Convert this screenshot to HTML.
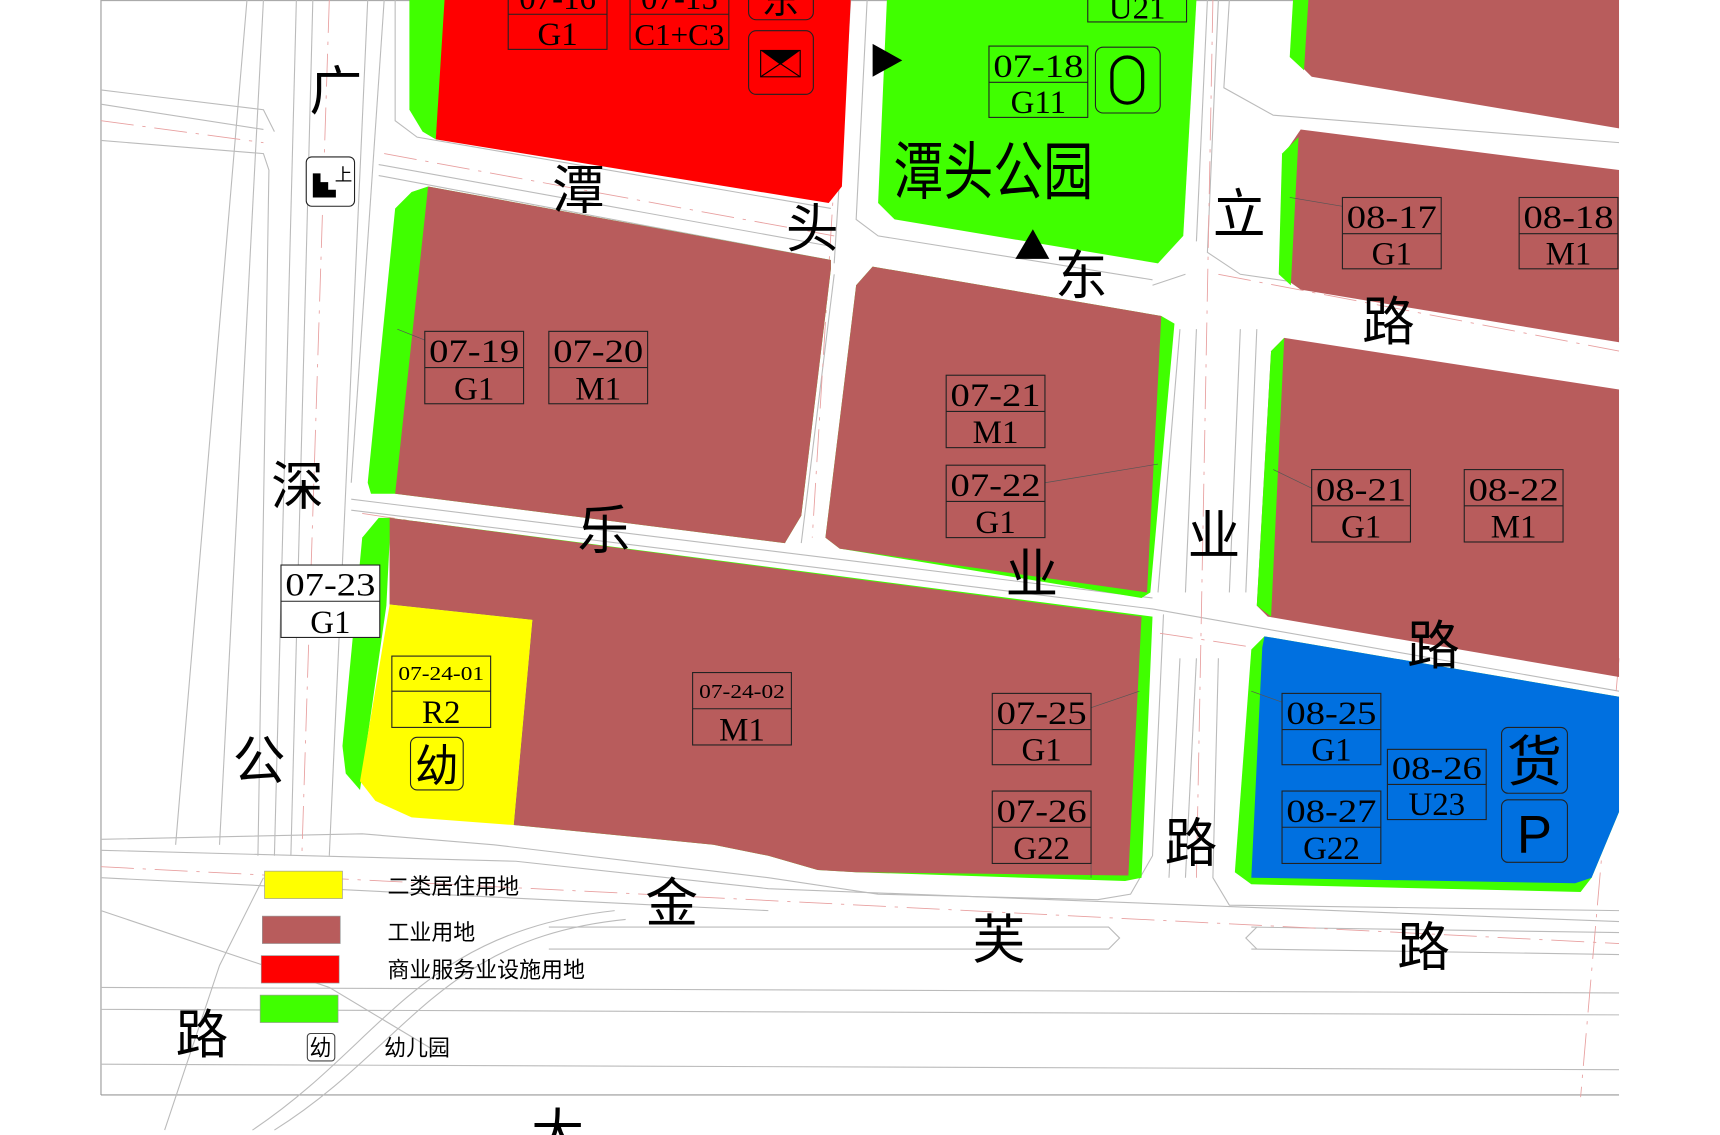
<!DOCTYPE html>
<html><head><meta charset="utf-8"><style>
html,body{margin:0;padding:0;background:#fff;overflow:hidden}
svg{display:block}
.cj{font-family:"Liberation Sans","Noto Sans CJK SC",sans-serif;fill:#000}
.lb{font-family:"Liberation Serif","Noto Serif CJK SC",serif;fill:#000;text-anchor:middle}
.bx{fill:none;stroke:#222;stroke-width:1}
.rd{fill:none;stroke:#bbb;stroke-width:1}
.rr{fill:none;stroke:#e8a0a0;stroke-width:0.8;stroke-dasharray:30 8 3 8}
</style></head><body>
<svg width="1720" height="1135" viewBox="0 0 1567 1034.5" preserveAspectRatio="none" xmlns="http://www.w3.org/2000/svg">
<rect width="1567" height="1035" fill="#fff"/>
<line x1="92" y1="0" x2="92" y2="998" stroke="#999"/>
<line x1="92" y1="998" x2="1475" y2="998" stroke="#999"/>
<line x1="92" y1="0.5" x2="1475" y2="0.5" stroke="#aaa"/>
<g class="rd">
<path d="M92,82 L240,100 L250,120"/><path d="M92,95 L240,118"/><path d="M92,128 L240,140 L245,155 L235,780"/>
<path d="M270,0 L250,780"/><path d="M285,0 L265,780"/><path d="M335,0 L300,780"/><path d="M350,0 L320,440"/><path d="M240,0 L200,770"/><path d="M225,0 L160,770"/>
<path d="M360,0 L360,110 L380,125 L757,190"/><path d="M345,150 L760,225"/><path d="M345,160 L755,237"/>
<path d="M790,0 L780,200 L800,215 L1050,255"/><path d="M775,0 L760,240"/><path d="M760,250 L730,495"/><path d="M745,250 L715,495"/>
<path d="M1100,0 L1090,220"/><path d="M1110,0 L1100,230 L1130,250 L1475,300"/><path d="M1120,0 L1115,80 L1160,105 L1475,130"/><path d="M1080,250 L1050,260"/>
<path d="M1075,300 L1055,540"/><path d="M1090,300 L1080,540"/><path d="M1130,300 L1120,540"/><path d="M1145,300 L1135,540"/>
<path d="M320,465 L1050,555 L1475,630"/><path d="M320,455 L1050,545"/>
<path d="M1060,560 L1050,780 L1030,815 L1000,820 L800,815 L700,800 L450,770 L330,760 L92,765"/>
<path d="M1075,600 L1065,800"/><path d="M1090,600 L1080,800"/><path d="M1110,600 L1105,800 L1120,825 L1475,830"/>
<path d="M92,775 L470,785 L700,810 L1475,840"/><path d="M92,800 L700,830"/>
<path d="M500,845 L1010,845 L1020,855 L1010,865 L500,865"/><path d="M1140,845 L1475,850"/><path d="M1140,865 L1475,870"/><path d="M1145,845 L1135,855 L1145,865"/>
<path d="M92,900 L1475,905"/><path d="M92,920 L1475,925"/><path d="M92,970 L1475,975"/>
<path d="M230,1030 C350,950 380,850 560,830"/><path d="M250,1030 C370,955 400,855 570,838"/>
<path d="M92,830 L300,900 L400,960"/><path d="M150,1030 L200,880 L240,800"/>
</g>
<g class="rr">
<path d="M92,110 L240,130"/><path d="M300,0 L275,780"/><path d="M350,140 L760,215"/><path d="M770,0 L740,490"/>
<path d="M1105,0 L1090,800"/><path d="M1110,250 L1475,320"/><path d="M330,468 L1475,640"/><path d="M92,790 L1475,860"/><path d="M1475,600 L1440,1000"/>
</g>
<polygon points="373,0 408,0 397,127 385,120 373,100" fill="#40ff00"/>
<polygon points="405,0 775,0 767,170 755,185 397,127" fill="#ff0000"/>
<polygon points="808,0 1090,0 1078,215 1055,240 815,200 800,185" fill="#40ff00"/>
<polygon points="1178,0 1475,0 1475,117 1195,70 1180,55" fill="#b85c5c"/>
<polygon points="1178,0 1192,0 1188,64 1175,52" fill="#40ff00"/>
<polygon points="1185,118 1475,155 1475,312 1185,264 1168,252 1170,140" fill="#b85c5c"/>
<polygon points="1168,140 1183,125 1176,260 1165,250" fill="#40ff00"/>
<polygon points="1170,308 1475,355 1475,617 1155,562 1145,552 1158,320" fill="#b85c5c"/>
<polygon points="1158,320 1170,308 1158,562 1145,552" fill="#40ff00"/>
<polygon points="1152,580 1475,635 1475,740 1450,800 1440,813 1140,806 1125,795 1140,592" fill="#40ff00"/>
<polygon points="1152,580 1475,635 1475,740 1450,800 1435,805 1140,800 1150,590" fill="#0070e0"/>
<polygon points="390,170 757,237 757,245 730,470 715,495 360,450 338,450 335,440 360,190 375,175" fill="#40ff00"/>
<polygon points="390,170 757,237 757,245 730,470 715,495 360,450" fill="#b85c5c"/>
<polygon points="795,243 1058,288 1070,295 1048,540 1040,545 765,500 752,490 780,260" fill="#40ff00"/>
<polygon points="795,243 1058,288 1045,540 765,500 752,490 780,260" fill="#b85c5c"/>
<polygon points="330,490 345,472 356,472 352,552 328,720 315,705 312,680" fill="#40ff00"/>
<polygon points="355,472 1050,562 1040,800 1025,803 780,795 745,793 700,780 650,770 468,752 485,565 355,551" fill="#40ff00"/>
<polygon points="355,472 1040,562 1028,798 780,795 745,793 700,780 650,770 468,752 485,565 355,551" fill="#b85c5c"/>
<polygon points="355,551 485,565 468,752 375,745 342,730 328,712" fill="#ffff00"/>
<g stroke="#555" stroke-width="0.6" fill="none">
<line x1="362" y1="300" x2="387" y2="310"/><line x1="952" y1="440" x2="1055" y2="423"/><line x1="994" y1="645" x2="1038" y2="630"/>
<line x1="1160" y1="428" x2="1195" y2="445"/><line x1="1175" y1="180" x2="1223" y2="188"/><line x1="1140" y1="630" x2="1168" y2="640"/><line x1="994" y1="787" x2="994" y2="800"/>
</g>
<g>
<g><rect class="bx" x="463" y="-20" width="90" height="65"/><line class="bx" x1="463" y1="13" x2="553" y2="13"/><text class="lb" x="508" y="8" font-size="30">07-16</text><text class="lb" x="508" y="41" font-size="30">G1</text></g>
<g><rect class="bx" x="574" y="-20" width="90" height="65"/><line class="bx" x1="574" y1="13" x2="664" y2="13"/><text class="lb" x="619" y="8" font-size="30">07-15</text><text class="lb" x="619" y="41" font-size="28" textLength="82" lengthAdjust="spacingAndGlyphs">C1+C3</text></g>
<g><rect class="bx" x="901" y="42" width="90" height="65"/><line class="bx" x1="901" y1="75" x2="991" y2="75"/><text class="lb" x="946" y="70" font-size="30" textLength="82" lengthAdjust="spacingAndGlyphs">07-18</text><text class="lb" x="946" y="103" font-size="30">G11</text></g>
<g><rect class="bx" x="991" y="-20" width="90" height="40"/><text class="lb" x="1036" y="17" font-size="30">U21</text></g>
<g><rect class="bx" x="1223" y="180" width="90" height="65"/><line class="bx" x1="1223" y1="213" x2="1313" y2="213"/><text class="lb" x="1268" y="208" font-size="30" textLength="82" lengthAdjust="spacingAndGlyphs">08-17</text><text class="lb" x="1268" y="241" font-size="30">G1</text></g>
<g><rect class="bx" x="1384" y="180" width="90" height="65"/><line class="bx" x1="1384" y1="213" x2="1474" y2="213"/><text class="lb" x="1429" y="208" font-size="30" textLength="82" lengthAdjust="spacingAndGlyphs">08-18</text><text class="lb" x="1429" y="241" font-size="30">M1</text></g>
<g><rect class="bx" x="387" y="302" width="90" height="66"/><line class="bx" x1="387" y1="335" x2="477" y2="335"/><text class="lb" x="432" y="330" font-size="30" textLength="82" lengthAdjust="spacingAndGlyphs">07-19</text><text class="lb" x="432" y="364" font-size="30">G1</text></g>
<g><rect class="bx" x="500" y="302" width="90" height="66"/><line class="bx" x1="500" y1="335" x2="590" y2="335"/><text class="lb" x="545" y="330" font-size="30" textLength="82" lengthAdjust="spacingAndGlyphs">07-20</text><text class="lb" x="545" y="364" font-size="30">M1</text></g>
<g><rect class="bx" x="862" y="342" width="90" height="66"/><line class="bx" x1="862" y1="375" x2="952" y2="375"/><text class="lb" x="907" y="370" font-size="30" textLength="82" lengthAdjust="spacingAndGlyphs">07-21</text><text class="lb" x="907" y="404" font-size="30">M1</text></g>
<g><rect class="bx" x="862" y="424" width="90" height="66"/><line class="bx" x1="862" y1="457" x2="952" y2="457"/><text class="lb" x="907" y="452" font-size="30" textLength="82" lengthAdjust="spacingAndGlyphs">07-22</text><text class="lb" x="907" y="486" font-size="30">G1</text></g>
<g><rect class="bx" x="1195" y="428" width="90" height="66"/><line class="bx" x1="1195" y1="461" x2="1285" y2="461"/><text class="lb" x="1240" y="456" font-size="30" textLength="82" lengthAdjust="spacingAndGlyphs">08-21</text><text class="lb" x="1240" y="490" font-size="30">G1</text></g>
<g><rect class="bx" x="1334" y="428" width="90" height="66"/><line class="bx" x1="1334" y1="461" x2="1424" y2="461"/><text class="lb" x="1379" y="456" font-size="30" textLength="82" lengthAdjust="spacingAndGlyphs">08-22</text><text class="lb" x="1379" y="490" font-size="30">M1</text></g>
<g><rect x="256" y="515" width="90" height="66" fill="#fff" stroke="#222"/><line class="bx" x1="256" y1="548" x2="346" y2="548"/><text class="lb" x="301" y="543" font-size="30" textLength="82" lengthAdjust="spacingAndGlyphs">07-23</text><text class="lb" x="301" y="577" font-size="30">G1</text></g>
<g><rect class="bx" x="357" y="598" width="90" height="65"/><line class="bx" x1="357" y1="630" x2="447" y2="630"/><text class="lb" x="402" y="620" font-size="18" textLength="78" lengthAdjust="spacingAndGlyphs">07-24-01</text><text class="lb" x="402" y="659" font-size="30">R2</text></g>
<g><rect class="bx" x="631" y="613" width="90" height="66"/><line class="bx" x1="631" y1="646" x2="721" y2="646"/><text class="lb" x="676" y="636" font-size="18" textLength="78" lengthAdjust="spacingAndGlyphs">07-24-02</text><text class="lb" x="676" y="675" font-size="30">M1</text></g>
<g><rect class="bx" x="904" y="632" width="90" height="65"/><line class="bx" x1="904" y1="665" x2="994" y2="665"/><text class="lb" x="949" y="660" font-size="30" textLength="82" lengthAdjust="spacingAndGlyphs">07-25</text><text class="lb" x="949" y="693" font-size="30">G1</text></g>
<g><rect class="bx" x="904" y="721" width="90" height="66"/><line class="bx" x1="904" y1="754" x2="994" y2="754"/><text class="lb" x="949" y="749" font-size="30" textLength="82" lengthAdjust="spacingAndGlyphs">07-26</text><text class="lb" x="949" y="783" font-size="30">G22</text></g>
<g><rect class="bx" x="1168" y="632" width="90" height="65"/><line class="bx" x1="1168" y1="665" x2="1258" y2="665"/><text class="lb" x="1213" y="660" font-size="30" textLength="82" lengthAdjust="spacingAndGlyphs">08-25</text><text class="lb" x="1213" y="693" font-size="30">G1</text></g>
<g><rect class="bx" x="1264" y="683" width="90" height="64"/><line class="bx" x1="1264" y1="715" x2="1354" y2="715"/><text class="lb" x="1309" y="710" font-size="30" textLength="82" lengthAdjust="spacingAndGlyphs">08-26</text><text class="lb" x="1309" y="743" font-size="30">U23</text></g>
<g><rect class="bx" x="1168" y="721" width="90" height="66"/><line class="bx" x1="1168" y1="754" x2="1258" y2="754"/><text class="lb" x="1213" y="749" font-size="30" textLength="82" lengthAdjust="spacingAndGlyphs">08-27</text><text class="lb" x="1213" y="783" font-size="30">G22</text></g>
</g>
<rect x="682" y="-12" width="59" height="30" rx="7" class="bx"/><text class="cj" x="711" y="12" font-size="34" text-anchor="middle">东</text>
<rect x="682" y="28" width="59" height="58" rx="7" class="bx"/>
<rect x="693" y="46" width="36" height="24" fill="none" stroke="#000"/><polygon points="693,46 729,46 711,59" fill="#000"/><line x1="693" y1="70" x2="711" y2="58" stroke="#000"/><line x1="729" y1="70" x2="711" y2="58" stroke="#000"/>
<rect x="998" y="43" width="59" height="60" rx="7" class="bx"/><rect x="1013" y="52" width="28" height="42" rx="14" fill="none" stroke="#000" stroke-width="3"/>
<rect x="374" y="672" width="48" height="48" rx="6" class="bx"/><text class="cj" x="398" y="712" font-size="40" text-anchor="middle">幼</text>
<rect x="1368" y="663" width="60" height="60" rx="6" class="bx"/><text class="cj" x="1398" y="712" font-size="50" text-anchor="middle">货</text>
<rect x="1368" y="729" width="60" height="57" rx="6" class="bx"/><text x="1398" y="777" font-size="48" text-anchor="middle" font-family="Liberation Sans,sans-serif">P</text>
<rect x="279" y="143" width="44" height="45" rx="5" fill="#fff" stroke="#222"/><polygon points="285,180 285,158 292,158 292,166 299,166 299,173 306,173 306,180" fill="#000"/><text class="cj" x="305" y="165" font-size="16">上</text>
<polygon points="795,40 822,55 795,70" fill="#000"/>
<polygon points="925,236 941,209 956,236" fill="#000"/>
<g class="cj" font-size="48" text-anchor="middle">
<text x="306" y="100">广</text><text x="271" y="460">深</text><text x="236" y="710">公</text><text x="184" y="960">路</text>
<text x="527" y="190">潭</text><text x="740" y="225">头</text><text x="985" y="268">东</text>
<text x="550" y="500">乐</text><text x="940" y="540">业</text>
<text x="1129" y="212">立</text><text x="1265" y="310">路</text><text x="1106" y="505">业</text><text x="1306" y="605">路</text><text x="1085" y="785">路</text>
<text x="612" y="840">金</text><text x="910" y="873">芙</text><text x="1297" y="880">路</text><text x="508" y="1050">大</text>
<text x="905" y="177" font-size="58" textLength="182" lengthAdjust="spacingAndGlyphs">潭头公园</text>
</g>
<rect x="241" y="794" width="71" height="25" fill="#ffff00" stroke="#999" stroke-width="0.6"/>
<rect x="239" y="835" width="71" height="25" fill="#b85c5c" stroke="#999" stroke-width="0.6"/>
<rect x="238" y="871" width="71" height="25" fill="#ff0000" stroke="#999" stroke-width="0.6"/>
<rect x="237" y="907" width="71" height="25" fill="#40ff00" stroke="#999" stroke-width="0.6"/>
<rect x="280" y="942" width="25" height="25" rx="3" fill="#fff" stroke="#444"/>
<g class="cj" font-size="20">
<text x="353" y="815">二类居住用地</text><text x="353" y="857">工业用地</text><text x="353" y="891">商业服务业设施用地</text>
<text x="282" y="962">幼</text><text x="350" y="962">幼儿园</text>
</g>
</svg>
</body></html>
